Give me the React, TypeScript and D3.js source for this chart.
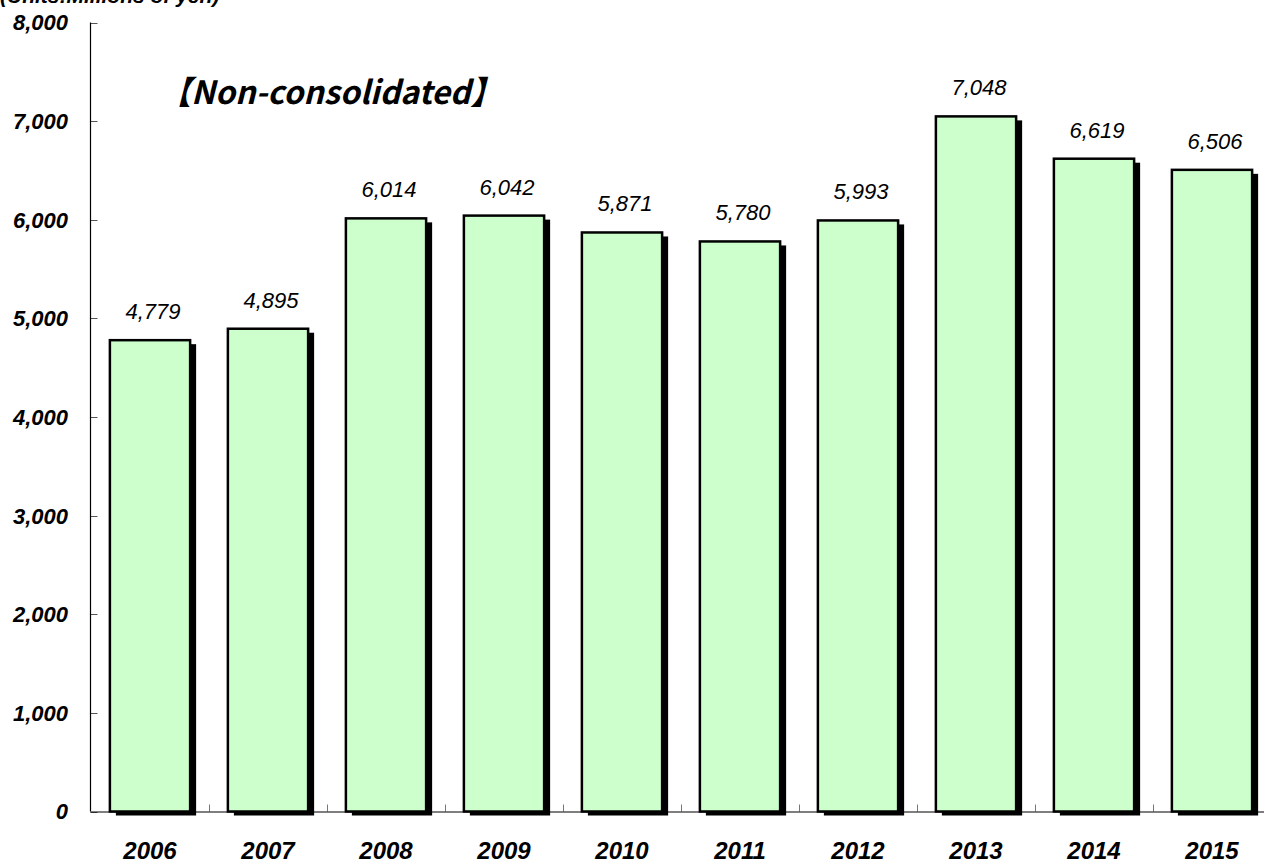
import React from "react";
import * as d3 from "d3";

const years = ["2006", "2007", "2008", "2009", "2010", "2011", "2012", "2013", "2014", "2015"];
const values = [4779, 4895, 6014, 6042, 5871, 5780, 5993, 7048, 6619, 6506];
const yTicks = [0, 1000, 2000, 3000, 4000, 5000, 6000, 7000, 8000];
const title = "【Non-consolidated】";
const unitsLabel = "(Units:Millions of yen)";

const W = 1264;
const H = 863;
const axisX = 90.5;
const y0 = 811.5;
const yTop = 22.5;

export default function App() {
  const x = d3
    .scaleBand<string>()
    .domain(years)
    .range([91, 1271])
    .paddingInner(0.32)
    .paddingOuter(0.16);
  const y = d3.scaleLinear().domain([0, 8000]).range([y0, yTop]);
  const step = x.step();
  const fmt = d3.format(",");

  return (
    <svg
      width={W}
      height={H}
      style={{ position: "absolute", left: 0, top: 0, background: "#fff" }}
    >
      <text
        x={0}
        y={3}
        fontFamily="Liberation Sans, Arial, sans-serif"
        fontStyle="italic"
        fontWeight="bold"
        fontSize={21}
      >
        {unitsLabel}
      </text>

      {/* category ticks */}
      {years.map((yr, i) => {
        const tx = Math.round(91 + step * i) + 0.5;
        return i === 0 ? null : (
          <line key={"ct" + yr} x1={tx} x2={tx} y1={y0} y2={y0 - 7} stroke="#777" strokeWidth={1} />
        );
      })}

      {/* y ticks */}
      {yTicks.map((t) => (
        <g key={"yt" + t}>
          <line x1={axisX} x2={axisX + 7} y1={Math.round(y(t)) + 0.5} y2={Math.round(y(t)) + 0.5} stroke="#555" strokeWidth={1} />
          <text
            x={68}
            y={y(t)}
            dy="0.36em"
            textAnchor="end"
            fontFamily="Liberation Sans, Arial, sans-serif"
            fontStyle="italic"
            fontWeight="bold"
            fontSize={22}
          >
            {fmt(t)}
          </text>
        </g>
      ))}

      {/* bars */}
      {years.map((yr, i) => {
        const bx = x(yr)!;
        const bw = x.bandwidth();
        const by = y(values[i]);
        const bh = y0 - by;
        return (
          <g key={"b" + yr}>
            <rect x={bx + 6} y={by + 4} width={bw} height={bh} fill="#000" />
            <rect x={bx} y={by} width={bw} height={bh} fill="#ccffcc" stroke="#000" strokeWidth={2.5} />
            <text
              x={bx + bw / 2 + 3}
              y={by - 21}
              textAnchor="middle"
              fontFamily="Liberation Sans, Arial, sans-serif"
              fontStyle="italic"
              fontSize={22}
            >
              {fmt(values[i])}
            </text>
            <text
              x={bx + bw / 2}
              y={859}
              textAnchor="middle"
              fontFamily="Liberation Sans, Arial, sans-serif"
              fontStyle="italic"
              fontWeight="bold"
              fontSize={24}
            >
              {yr}
            </text>
          </g>
        );
      })}

      {/* axes */}
      <line x1={axisX} x2={axisX} y1={yTop} y2={y0} stroke="#000" strokeWidth={1.2} />
      <line x1={axisX} x2={W} y1={y0 + 0.5} y2={y0 + 0.5} stroke="#000" strokeWidth={1.2} />

      <text
        x={159}
        y={104}
        fontFamily="Noto Sans CJK JP, sans-serif"
        fontStyle="italic"
        fontWeight="bold"
        fontSize={32}
      >
        {title}
      </text>
    </svg>
  );
}
